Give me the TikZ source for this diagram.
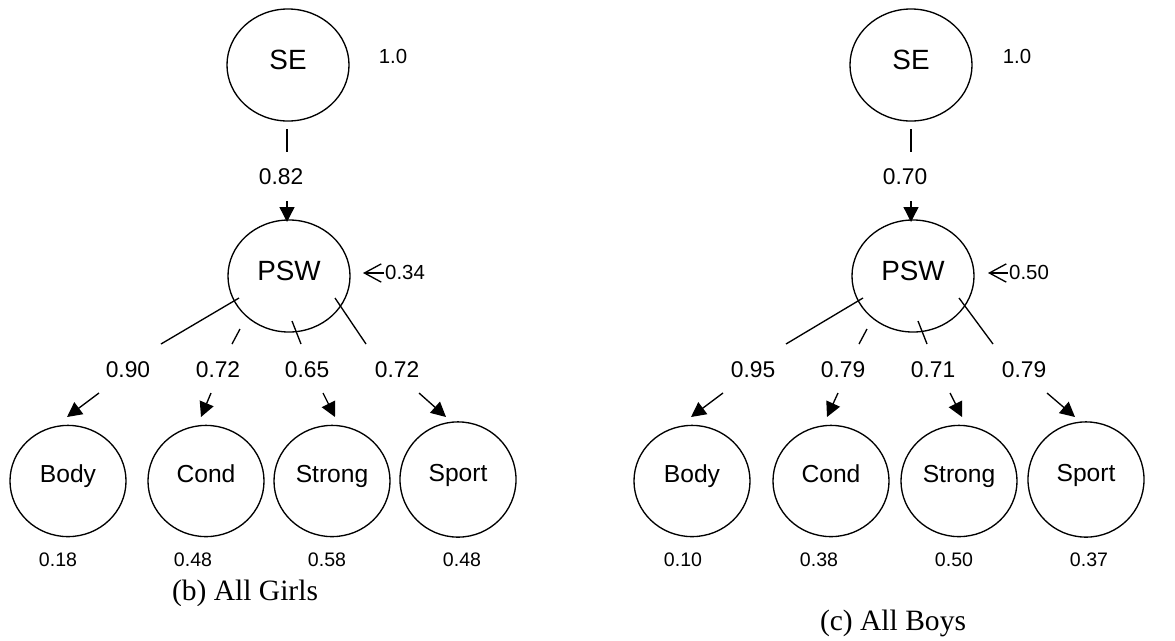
\documentclass[tikz,border=0pt]{standalone}
\usepackage{fontspec}
\setmainfont{Liberation Sans}
\newfontfamily\capfont{Liberation Serif}
\usetikzlibrary{arrows.meta,shapes.geometric}
\begin{document}
\begin{tikzpicture}[x=0.025cm,y=-0.025cm,
  latent/.style={draw,ellipse,line width=0.95pt,inner sep=0pt,
    minimum width=3.05cm,minimum height=2.8cm,text height=14pt,text depth=7.6pt,
    font=\fontsize{19.8}{22}\selectfont},
  indicator/.style={draw,ellipse,line width=0.95pt,inner sep=0pt,
    minimum width=2.9cm,minimum height=2.78cm,text height=12.8pt,text depth=10pt,
    font=\fontsize{17.5}{20}\selectfont},
  coef/.style={inner sep=0pt,font=\fontsize{16.2}{18}\selectfont},
  small/.style={inner sep=0pt,font=\fontsize{14.5}{16}\selectfont},
  uniq/.style={inner sep=0pt,font=\fontsize{13.9}{16}\selectfont},
  plain/.style={line width=0.95pt},
  load/.style={line width=0.95pt,-{Triangle[length=10.5pt,width=10.5pt]}},
  resid/.style={line width=0.95pt,-{Straight Barb[length=12pt,width=13pt]}},
  caption/.style={inner sep=0pt,anchor=base,font=\capfont\fontsize{21}{24}\selectfont}]
\useasboundingbox (0,0) rectangle (1175,640);

% ---------------- (b) All Girls ----------------
\node[latent] (gSE) at (288,65) {SE};
\node[small] (gSEv) at (393,56) {1.0};
\node[latent] (gPSW) at (289,276) {PSW};
\node[indicator] (gBody) at (68,481) {Body};
\node[indicator] (gCond) at (206,481) {Cond};
\node[indicator] (gStrong) at (332,481) {Strong};
\node[indicator,minimum height=2.88cm] (gSport) at (458,479.5) {Sport};

% SE -> PSW
\coordinate (gA1) at (287,129);
\coordinate (gA2) at (287,152);
\coordinate (gA3) at (287,201);
\coordinate (gA4) at (287,222);
\draw[plain] (gA1) -- (gA2);
\node[coef] (gC0) at (281,177) {0.82};
\draw[load] (gA3) -- (gA4);

% residual of PSW
\node[small] (gRes) at (405,272) {0.34};
\coordinate (gR1) at (384,273);
\coordinate (gR2) at (363,273);
\draw[resid] (gR1) -- (gR2);

% loadings
\coordinate (gL1a) at (239,298); \coordinate (gL1b) at (161,344);
\coordinate (gL1c) at (99,393);  \coordinate (gL1d) at (67,417);
\coordinate (gL2a) at (240,329); \coordinate (gL2b) at (232,344);
\coordinate (gL2c) at (211,393); \coordinate (gL2d) at (201,417);
\coordinate (gL3a) at (292,321); \coordinate (gL3b) at (301,344);
\coordinate (gL3c) at (323,393); \coordinate (gL3d) at (335,417);
\coordinate (gL4a) at (335,298); \coordinate (gL4b) at (366,344);
\coordinate (gL4c) at (419,393); \coordinate (gL4d) at (446,417);
\draw[plain] (gL1a) -- (gL1b); \draw[load] (gL1c) -- (gL1d);
\draw[plain] (gL2a) -- (gL2b); \draw[load] (gL2c) -- (gL2d);
\draw[plain] (gL3a) -- (gL3b); \draw[load] (gL3c) -- (gL3d);
\draw[plain] (gL4a) -- (gL4b); \draw[load] (gL4c) -- (gL4d);
\node[coef] (gC1) at (128,370) {0.90};
\node[coef] (gC2) at (218,370) {0.72};
\node[coef] (gC3) at (307,370) {0.65};
\node[coef] (gC4) at (397,370) {0.72};

% unique variances
\node[uniq] (gU1) at (58,560) {0.18};
\node[uniq] (gU2) at (193,560) {0.48};
\node[uniq] (gU3) at (327,560) {0.58};
\node[uniq] (gU4) at (462,560) {0.48};

\begin{scope}
  \clip (0,0) rectangle (600,605);
  \node[caption] (gCap) at (245,600) {(b) All Girls};
\end{scope}

% ---------------- (c) All Boys ----------------
\node[latent] (bSE) at (911,65) {SE};
\node[small] (bSEv) at (1017,56) {1.0};
\node[latent] (bPSW) at (913,276) {PSW};
\node[indicator] (bBody) at (692,481) {Body};
\node[indicator] (bCond) at (831,481) {Cond};
\node[indicator] (bStrong) at (959,481) {Strong};
\node[indicator,minimum height=2.88cm] (bSport) at (1086,479.5) {Sport};

% SE -> PSW
\coordinate (bA1) at (911,129);
\coordinate (bA2) at (911,152);
\coordinate (bA3) at (911,201);
\coordinate (bA4) at (911,222);
\draw[plain] (bA1) -- (bA2);
\node[coef] (bC0) at (905,177) {0.70};
\draw[load] (bA3) -- (bA4);

% residual of PSW
\node[small] (bRes) at (1029,272) {0.50};
\coordinate (bR1) at (1008,273);
\coordinate (bR2) at (988,273);
\draw[resid] (bR1) -- (bR2);

% loadings
\coordinate (bL1a) at (863,298); \coordinate (bL1b) at (786,344);
\coordinate (bL1c) at (723,393); \coordinate (bL1d) at (691,417);
\coordinate (bL2a) at (867,329); \coordinate (bL2b) at (859,344);
\coordinate (bL2c) at (838,393); \coordinate (bL2d) at (827,417);
\coordinate (bL3a) at (918,321); \coordinate (bL3b) at (927,344);
\coordinate (bL3c) at (950,393); \coordinate (bL3d) at (962,417);
\coordinate (bL4a) at (959,298); \coordinate (bL4b) at (993,344);
\coordinate (bL4c) at (1047,393); \coordinate (bL4d) at (1075,417);
\draw[plain] (bL1a) -- (bL1b); \draw[load] (bL1c) -- (bL1d);
\draw[plain] (bL2a) -- (bL2b); \draw[load] (bL2c) -- (bL2d);
\draw[plain] (bL3a) -- (bL3b); \draw[load] (bL3c) -- (bL3d);
\draw[plain] (bL4a) -- (bL4b); \draw[load] (bL4c) -- (bL4d);
\node[coef] (bC1) at (753,370) {0.95};
\node[coef] (bC2) at (843,370) {0.79};
\node[coef] (bC3) at (933,370) {0.71};
\node[coef] (bC4) at (1024,370) {0.79};

% unique variances
\node[uniq] (bU1) at (683,560) {0.10};
\node[uniq] (bU2) at (819,560) {0.38};
\node[uniq] (bU3) at (954,560) {0.50};
\node[uniq] (bU4) at (1089,560) {0.37};

\node[caption] (bCap) at (893,630) {(c) All Boys};
\end{tikzpicture}
\end{document}
